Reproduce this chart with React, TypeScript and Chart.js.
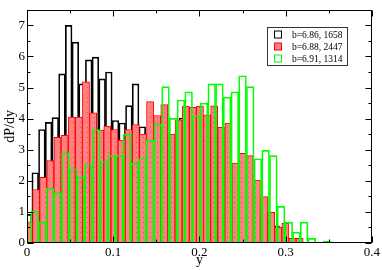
import React, { useEffect, useRef } from "react";
import { Chart, registerables } from "chart.js";

Chart.register(...registerables);

// Histogram bins (start of first bin, bin width) for each series
const blackBinStart = -0.0021;
const blackBinWidth = 0.00776;
const redBinStart = -0.0018;
const redBinWidth = 0.00826;
const greenBinStart = 0.0044;
const greenBinWidth = 0.00893;

const blackValues = [
  0.92, 2.26, 3.65, 3.88, 4.03, 5.44, 7.0, 6.46, 5.12, 5.89, 5.98, 5.28, 5.5,
  3.94, 3.86, 4.42, 5.12, 3.74, 3.3, 3.4, 3.3, 3.2, 3.4, 4.02, 3.6, 3.4, 3.3,
  3.0, 2.8, 2.5, 2.3, 2.2, 1.8, 1.5, 1.2, 0.9, 0.7, 0.55, 0.2,
];
const redValues = [
  0.68, 1.72, 2.11, 2.65, 3.4, 3.46, 4.05, 4.05, 5.18, 4.19, 3.63, 3.76, 3.65,
  3.31, 3.65, 3.81, 3.5, 4.55, 4.1, 4.45, 3.5, 3.96, 4.4, 4.36, 4.4, 4.12, 4.41,
  3.72, 3.86, 2.57, 2.88, 2.81, 2.02, 1.49, 0.99, 0.5, 0.63, 0.15, 0.15, 0.02,
];
const greenValues = [
  1.02, 0.68, 1.77, 1.61, 2.9, 2.38, 2.14, 2.55, 3.65, 2.62, 2.81, 2.81, 3.5,
  2.57, 2.71, 3.31, 3.83, 5.03, 4.01, 4.6, 4.86, 4.09, 4.5, 5.12, 5.12, 4.69,
  4.86, 5.38, 5.03, 2.71, 2.98, 2.81, 1.18, 0.67, 0.35, 0.67, 0.15, 0, 0.06,
];

const seriesLabels = ["b=6.86, 1658", "b=6.88, 2447", "b=6.91, 1314"];
const xTickStep = 0.1;
const yTickStep = 1;
const xRange = [0, 0.4];
const yRange = [0, 7.5];
const xTitle = "y";
const yTitle = "dP/dy";

const SERIF = "'Liberation Serif', 'DejaVu Serif', serif";

function toPoints(start: number, width: number, values: number[]) {
  return values.map((v, i) => ({ x: start + (i + 0.5) * width, y: v }));
}

export default function App() {
  const ref = useRef<HTMLCanvasElement | null>(null);

  useEffect(() => {
    const canvas = ref.current;
    if (!canvas) return;
    const ctx = canvas.getContext("2d")!;

    // dotted salmon fill for the red histogram
    const pc = document.createElement("canvas");
    pc.width = 7;
    pc.height = 5;
    const pctx = pc.getContext("2d")!;
    pctx.fillStyle = "#ff8080";
    pctx.fillRect(0, 0, 7, 5);
    pctx.fillStyle = "rgba(170,60,60,0.55)";
    pctx.fillRect(3, 2, 1, 1);
    const redPattern = ctx.createPattern(pc, "repeat")!;

    const colors = [
      { border: "#000000", fill: "rgba(0,0,0,0)" },
      { border: "#ff0000", fill: "#ff8080" },
      { border: "#00ff00", fill: "rgba(0,0,0,0)" },
    ];

    const framePlugin = {
      id: "frameTicksLegend",
      afterDatasetsDraw(chart: any) {
        const { ctx: c, chartArea: a, scales } = chart;
        const xs = scales.x;
        const ys = scales.y;
        c.save();
        c.strokeStyle = "#000";
        c.lineWidth = 1;
        const L = Math.round(a.left) + 0.5;
        const R = Math.round(a.right) - 0.5;
        const T = Math.round(a.top) + 0.5;
        const B = Math.round(a.bottom) - 0.5;
        c.strokeRect(L, T, R - L, B - T);
        c.beginPath();
        for (let v = xRange[0]; v <= xRange[1] + 1e-9; v += xTickStep / 2) {
          const major = Math.abs(v / xTickStep - Math.round(v / xTickStep)) < 1e-6;
          const len = major ? 6 : 3;
          const px = Math.round(xs.getPixelForValue(v)) + 0.5;
          c.moveTo(px, B);
          c.lineTo(px, B - len);
          c.moveTo(px, T);
          c.lineTo(px, T + len);
        }
        for (let v = yRange[0]; v <= yRange[1] + 1e-9; v += yTickStep / 2) {
          const major = Math.abs(v / yTickStep - Math.round(v / yTickStep)) < 1e-6;
          const len = major ? 6 : 3;
          const py = Math.round(ys.getPixelForValue(v)) + 0.5;
          c.moveTo(L, py);
          c.lineTo(L + len, py);
          c.moveTo(R, py);
          c.lineTo(R - len, py);
        }
        c.stroke();

        // legend box
        const bx = Math.round(a.right) - 105 + 0.5;
        const by = Math.round(a.top) + 17 + 0.5;
        const bw = 80;
        const bh = 38;
        c.fillStyle = "#fff";
        c.fillRect(bx, by, bw, bh);
        c.strokeStyle = "#333";
        c.strokeRect(bx, by, bw, bh);
        c.font = `9.5px ${SERIF}`;
        c.textBaseline = "middle";
        c.textAlign = "left";
        seriesLabels.forEach((lab, i) => {
          const cy = by + 7 + i * 12;
          const sx = bx + 7;
          c.fillStyle = i === 1 ? colors[1].fill : "rgba(0,0,0,0)";
          c.fillRect(sx, cy - 3.5, 7, 7);
          c.strokeStyle = colors[i].border;
          c.lineWidth = 1;
          c.strokeRect(sx, cy - 3.5, 7, 7);
          c.fillStyle = "#000";
          c.fillText(lab, bx + 24.5, cy + 0.5);
        });
        c.restore();
      },
    };

    const hiddenX = {
      type: "linear",
      min: xRange[0],
      max: xRange[1],
      offset: false,
      display: false,
      grid: { offset: false },
    };

    const chart = new Chart(canvas, {
      type: "bar",
      data: {
        datasets: [
          {
            label: seriesLabels[0],
            data: toPoints(blackBinStart, blackBinWidth, blackValues),
            xAxisID: "x",
            yAxisID: "y",
            backgroundColor: colors[0].fill,
            borderColor: colors[0].border,
            borderWidth: 1,
            barPercentage: 1,
            categoryPercentage: 1,
            grouped: false,
            order: 3,
            clip: 0,
          } as any,
          {
            label: seriesLabels[1],
            data: toPoints(redBinStart, redBinWidth, redValues),
            xAxisID: "x2",
            yAxisID: "y",
            backgroundColor: redPattern,
            borderColor: colors[1].border,
            borderWidth: 1,
            barPercentage: 1,
            categoryPercentage: 1,
            grouped: false,
            order: 2,
            clip: 0,
          } as any,
          {
            label: seriesLabels[2],
            data: toPoints(greenBinStart, greenBinWidth, greenValues),
            xAxisID: "x3",
            yAxisID: "y",
            backgroundColor: colors[2].fill,
            borderColor: colors[2].border,
            borderWidth: 1,
            barPercentage: 1,
            categoryPercentage: 1,
            grouped: false,
            order: 1,
            clip: 0,
          } as any,
        ],
      },
      options: {
        responsive: false,
        animation: false,
        devicePixelRatio: 1,
        layout: { padding: { left: 0, right: 8, top: 1, bottom: 0 }, autoPadding: false } as any,
        plugins: {
          legend: { display: false },
          tooltip: { enabled: false },
        },
        scales: {
          x: {
            type: "linear",
            position: "bottom",
            min: xRange[0],
            max: xRange[1],
            offset: false,
            ticks: {
              stepSize: xTickStep,
              includeBounds: false,
              maxRotation: 0,
              autoSkip: false,
              padding: 2,
              color: "#000",
              font: { family: SERIF, size: 13 },
            },
            grid: { display: false, drawTicks: false, offset: false },
            border: { display: false },
            title: {
              display: true,
              text: xTitle,
              color: "#000",
              font: { family: SERIF, size: 14 },
              padding: { top: 0, bottom: 1 },
            },
            afterFit: (s: any) => {
              s.height = 27;
            },
          } as any,
          x2: hiddenX as any,
          x3: hiddenX as any,
          y: {
            type: "linear",
            min: yRange[0],
            max: yRange[1],
            ticks: {
              stepSize: yTickStep,
              includeBounds: false,
              padding: 2,
              color: "#000",
              font: { family: SERIF, size: 13 },
            },
            grid: { display: false, drawTicks: false },
            border: { display: false },
            title: {
              display: true,
              text: yTitle,
              color: "#000",
              font: { family: SERIF, size: 14 },
              padding: { top: 2, bottom: 0 },
            },
            afterFit: (s: any) => {
              s.width = 27;
            },
          } as any,
        },
      },
      plugins: [framePlugin],
    });

    return () => chart.destroy();
  }, []);

  return (
    <div style={{ position: "absolute", left: 0, top: 0, width: 382, height: 270, background: "#fff" }}>
      <canvas ref={ref} width={382} height={270} style={{ display: "block" }} />
    </div>
  );
}
